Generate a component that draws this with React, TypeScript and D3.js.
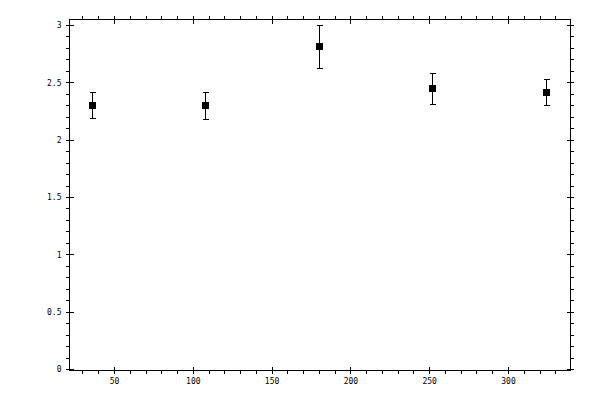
import React from "react";
import * as d3 from "d3";

const xValues = [36, 108, 180, 252, 324];
const yValues = [2.3, 2.3, 2.815, 2.449, 2.415];
const yErrors = [0.113, 0.12, 0.186, 0.135, 0.11];
const xTickLabels = [50, 100, 150, 200, 250, 300];
const yTickLabels = [0, 0.5, 1, 1.5, 2, 2.5, 3];

const W = 600;
const H = 400;
const L = 69.5, R = 570.5, T = 19.5, B = 370.5;

export default function App() {
  const x = d3.scaleLinear().domain([21.45, 339.35]).range([L, R]);
  const y = d3.scaleLinear().domain([-0.0087, 3.0523]).range([B, T]);
  const snap = (v: number) => Math.round(v - 0.5) + 0.5;

  const xMinor = d3.range(30, 340, 10).filter((v) => v % 50 !== 0);
  const yMinor = d3.range(1, 31).map((i) => i / 10).filter((_, i) => (i + 1) % 5 !== 0);

  const font = "DejaVu Sans Mono, monospace";
  const lines: JSX.Element[] = [];
  xTickLabels.forEach((v, i) => {
    const px = snap(x(v));
    lines.push(<line key={`xb${i}`} x1={px} x2={px} y1={B - 4} y2={B + 3.5} />);
    lines.push(<line key={`xt${i}`} x1={px} x2={px} y1={T - 3.5} y2={T + 4} />);
  });
  xMinor.forEach((v, i) => {
    const px = snap(x(v));
    lines.push(<line key={`xmb${i}`} x1={px} x2={px} y1={B} y2={B + 3.5} />);
    lines.push(<line key={`xmt${i}`} x1={px} x2={px} y1={T - 3.5} y2={T} />);
  });
  yTickLabels.forEach((v, i) => {
    const py = snap(y(v));
    lines.push(<line key={`yl${i}`} x1={L - 3.5} x2={L + 4} y1={py} y2={py} />);
    lines.push(<line key={`yr${i}`} x1={R - 4} x2={R + 3.5} y1={py} y2={py} />);
  });
  yMinor.forEach((v, i) => {
    const py = snap(y(v));
    lines.push(<line key={`yml${i}`} x1={L - 3.5} x2={L} y1={py} y2={py} />);
    lines.push(<line key={`ymr${i}`} x1={R} x2={R + 3.5} y1={py} y2={py} />);
  });

  return (
    <svg width={W} height={H} style={{ display: "block", position: "absolute", left: 0, top: 0, background: "#fff" }}>
      <rect x={0} y={0} width={W} height={H} fill="#fff" />
      <g stroke="#000" strokeWidth={1} shapeRendering="crispEdges" fill="none">
        <rect x={L} y={T} width={R - L} height={B - T} />
        {lines}
      </g>
      <g fontFamily={font} fontSize={8} fill="#000">
        {xTickLabels.map((v, i) => (
          <text key={`xl${i}`} x={x(v)} y={384} textAnchor="middle">{v}</text>
        ))}
        {yTickLabels.map((v, i) => (
          <text key={`ylb${i}`} x={61.5} y={y(v)} dy="0.35em" textAnchor="end">{v}</text>
        ))}
      </g>
      <g stroke="#000" strokeWidth={1} shapeRendering="crispEdges">
        {xValues.map((xv, i) => {
          const px = snap(x(xv));
          const top = y(yValues[i] + yErrors[i]);
          const bot = y(yValues[i] - yErrors[i]);
          return (
            <g key={`e${i}`}>
              <line x1={px} x2={px} y1={top} y2={bot} />
              <line x1={px - 3} x2={px + 3} y1={top} y2={top} />
              <line x1={px - 3} x2={px + 3} y1={bot} y2={bot} />
            </g>
          );
        })}
      </g>
      <g fill="#000" shapeRendering="crispEdges">
        {xValues.map((xv, i) => (
          <rect key={`m${i}`} x={snap(x(xv)) - 3.5} y={y(yValues[i]) - 3.5} width={7} height={7} />
        ))}
      </g>
    </svg>
  );
}
